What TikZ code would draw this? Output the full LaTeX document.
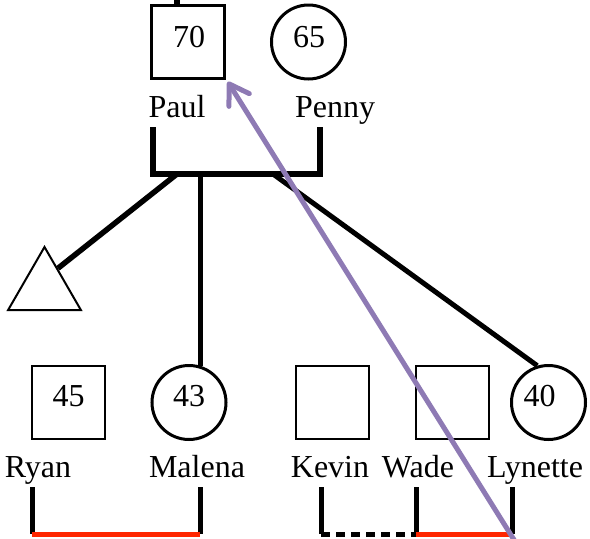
\documentclass[tikz,border=0pt]{standalone}
\usepackage{fontspec}
\setmainfont{Liberation Serif}
\usetikzlibrary{shapes.geometric,arrows.meta}
\definecolor{relred}{RGB}{255,38,0}
\definecolor{arrowpurple}{RGB}{142,122,180}
\tikzset{
  male/.style={draw, rectangle, minimum size=73pt, inner sep=0pt, line width=2.5pt},
  female/.style={draw, circle, minimum size=74pt, inner sep=0pt, line width=3pt},
  unknown/.style={draw, regular polygon, regular polygon sides=3, minimum size=84pt, inner sep=0pt, line width=2pt},
  txt/.style={anchor=base, inner sep=0pt, font=\fontsize{32}{38}\selectfont},
  link/.style={line width=5.5pt},
  thinlink/.style={line width=5pt},
  redlink/.style={line width=5pt, draw=relred},
  dashlink/.style={line width=5pt, dash pattern=on 9pt off 6pt},
  pointer/.style={line width=5pt, draw=arrowpurple, -{Straight Barb[length=19pt, width=24pt, round]}}
}
\begin{document}
\begin{tikzpicture}[x=1pt,y=-1pt]
\useasboundingbox (0,0) rectangle (590,539);
% shapes
\node[male] (paul) at (188,42) {};
\node[female] (penny) at (308.5,42) {};
\node[unknown] (tri) at (44.5,289) {};
\node[male] (ryan) at (68.5,402.5) {};
\node[female] (malena) at (189,402.5) {};
\node[male] (kevin) at (332.5,402.5) {};
\node[male] (wade) at (452.5,402.5) {};
\node[female] (lynette) at (548.5,402.5) {};
% numbers
\node[txt] (n70) at (189,47) {70};
\node[txt] (n65) at (309,47) {65};
\node[txt] (n45) at (68.5,406) {45};
\node[txt] (n43) at (189,406) {43};
\node[txt] (n40) at (539.5,406) {40};
% names
\node[txt] (lpaul) at (177,117) {Paul};
\node[txt] (lpenny) at (335,117) {Penny};
\node[txt] (lryan) at (38,477) {Ryan};
\node[txt] (lmalena) at (197,477) {Malena};
\node[txt] (lkevin) at (330,477) {Kevin};
\node[txt] (lwade) at (418,477) {Wade};
\node[txt] (llynette) at (535,477) {Lynette};
% line above Paul
\coordinate (ptop) at (177,-2);
\draw[link] (ptop) -- (ptop |- paul.north);
% marriage bracket Paul-Penny
\coordinate (bl1) at (153,127);
\coordinate (bl2) at (153,174);
\coordinate (br2) at (320,174);
\coordinate (br1) at (320,127);
\draw[link, line join=miter] (bl1) -- (bl2) -- (br2) -- (br1);
% children
\coordinate (c1) at (177,174);
\coordinate (c2) at (200,174);
\coordinate (c3) at (273,174);
\draw[link] (c1) -- (tri.57);
\draw[thinlink] (c2) -- (c2 |- malena.73);
\draw[thinlink] (c3) -- (lynette.107);
% Ryan - Malena
\coordinate (rm1) at (32,487);
\coordinate (rm2) at (32,534);
\coordinate (rm3) at (200,534);
\coordinate (rm4) at (200,487);
\draw[thinlink] (rm1) -- (rm2);
\draw[thinlink] (rm4) -- (rm3);
\draw[redlink] (rm2) -- (rm3);
% Kevin - Wade - Lynette
\coordinate (kw1) at (321,487);
\coordinate (kw2) at (321,534);
\coordinate (kw3) at (416,534);
\coordinate (kw4) at (416,487);
\coordinate (wl1) at (512,487);
\coordinate (wl2) at (512,534);
\draw[thinlink] (kw1) -- (kw2);
\draw[thinlink] (kw4) -- (kw3);
\draw[thinlink] (wl1) -- (wl2);
\draw[dashlink] (kw2) -- (kw3);
\draw[redlink] (kw3) -- (wl2);
% purple arrow
\coordinate (pstart) at (516,543);
\draw[pointer] (pstart) -- ([xshift=2pt,yshift=-2pt]paul.south east);
\end{tikzpicture}
\end{document}
